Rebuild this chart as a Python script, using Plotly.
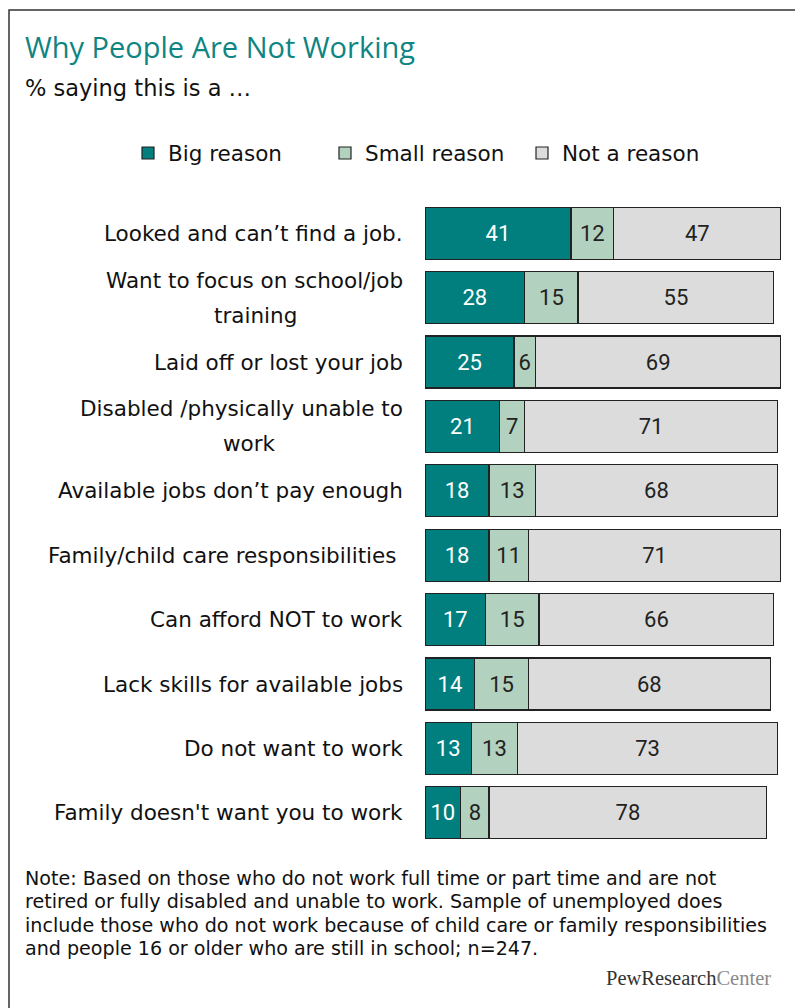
import plotly.graph_objects as go

categories = [
    "Looked and can’t find a job.",
    "Want to focus on school/job<br>training",
    "Laid off or lost your job",
    "Disabled /physically unable to<br>work",
    "Available jobs don’t pay enough",
    "Family/child care responsibilities ",
    "Can afford NOT to work",
    "Lack skills for available jobs",
    "Do not want to work",
    "Family doesn't want you to work",
]
big_reason = [41, 28, 25, 21, 18, 18, 17, 14, 13, 10]
small_reason = [12, 15, 6, 7, 13, 11, 15, 15, 13, 8]
not_reason = [47, 55, 69, 71, 68, 71, 66, 68, 73, 78]
series_names = ["Big reason", "Small reason", "Not a reason"]

title = "Why People Are Not Working"
subtitle = "% saying this is a …"
note_lines = [
    "Note: Based on those who do not work full time or part time and are not",
    "retired or fully disabled and unable to work. Sample of unemployed does",
    "include those who do not work because of child care or family responsibilities",
    "and people 16 or older who are still in school; n=247.",
]

colors = ["#007F7E", "#B3D1BF", "#DCDCDC"]
text_colors = ["white", "#222222", "#222222"]

# page has an 8px body margin; positions below are given in screen px and converted
OFF = 8
W, H = 795, 1000
ML = 425 - OFF
MR = W - (781 - OFF)
MT = 201 - OFF
MB = H - (845 - OFF)
PW = W - ML - MR
PH = H - MT - MB


def px_x(x):
    return (x - OFF - ML) / PW


def px_y(y):
    return (H - MB - (y - OFF)) / PH


fig = go.Figure()
for name, vals, col, tcol in zip(series_names, [big_reason, small_reason, not_reason], colors, text_colors):
    fig.add_trace(go.Bar(
        y=categories, x=vals, name=name, orientation="h",
        marker=dict(color=col, line=dict(color="#222222", width=1.2)),
        text=vals, textposition="inside", insidetextanchor="middle",
        textfont=dict(family="Roboto", size=22, color=tcol),
        width=0.81, hoverinfo="skip",
    ))

label_font = dict(family="DejaVu Sans", size=21.5, color="#111111")
second_line_center = {1: 255, 3: 249}
annotations = []
for idx, cat in enumerate(categories):
    lines = cat.split("<br>")
    if len(lines) == 1:
        annotations.append(dict(x=px_x(405), xref="paper", y=cat, yref="y",
                                xanchor="right", yanchor="middle", text=lines[0],
                                showarrow=False, font=label_font))
    else:
        annotations.append(dict(x=px_x(405), xref="paper", y=cat, yref="y",
                                xanchor="right", yanchor="middle", text=lines[0],
                                showarrow=False, font=label_font, yshift=17.5))
        annotations.append(dict(x=px_x(second_line_center[idx]), xref="paper", y=cat, yref="y",
                                xanchor="center", yanchor="middle", text=lines[1],
                                showarrow=False, font=label_font, yshift=-17.5))

annotations += [
    dict(x=px_x(23), y=px_y(46), xref="paper", yref="paper", xanchor="left", yanchor="middle",
         text=title, showarrow=False, font=dict(family="Open Sans", size=29, color="#0E8582")),
    dict(x=px_x(23), y=px_y(88), xref="paper", yref="paper", xanchor="left", yanchor="middle",
         text=subtitle, showarrow=False, font=dict(family="DejaVu Sans", size=22.5, color="#111111")),
    dict(x=px_x(773), y=px_y(978), xref="paper", yref="paper", xanchor="right", yanchor="middle",
         text="PewResearch<span style='color:#8a8a8a'>Center</span>", showarrow=False,
         font=dict(family="Liberation Serif", size=20.5, color="#333333")),
]
for i, ln in enumerate(note_lines):
    annotations.append(dict(x=px_x(23), y=px_y(878 + i * 23.5), xref="paper", yref="paper",
                            xanchor="left", yanchor="middle", text=ln, showarrow=False,
                            font=dict(family="DejaVu Sans", size=19.1, color="#111111")))

fig.update_layout(
    width=W, height=H,
    margin=dict(l=ML, r=MR, t=MT, b=MB),
    barmode="stack",
    paper_bgcolor="white", plot_bgcolor="white",
    xaxis=dict(range=[0, 100], visible=False),
    yaxis=dict(autorange="reversed", showticklabels=False, showgrid=False, zeroline=False, ticks=""),
    showlegend=True,
    legend=dict(orientation="h", x=px_x(128), y=px_y(153), xanchor="left", yanchor="middle",
                font=dict(family="DejaVu Sans", size=21.5, color="#111111"),
                traceorder="normal", entrywidth=152, entrywidthmode="pixels"),
    uniformtext=dict(minsize=22, mode="show"),
    annotations=annotations,
    shapes=[dict(type="rect", xref="paper", yref="paper",
                 x0=px_x(9), x1=px_x(830), y0=px_y(1040), y1=px_y(10),
                 line=dict(color="#333333", width=1.5), fillcolor="rgba(0,0,0,0)")],
)

fig.write_html("out.html")
